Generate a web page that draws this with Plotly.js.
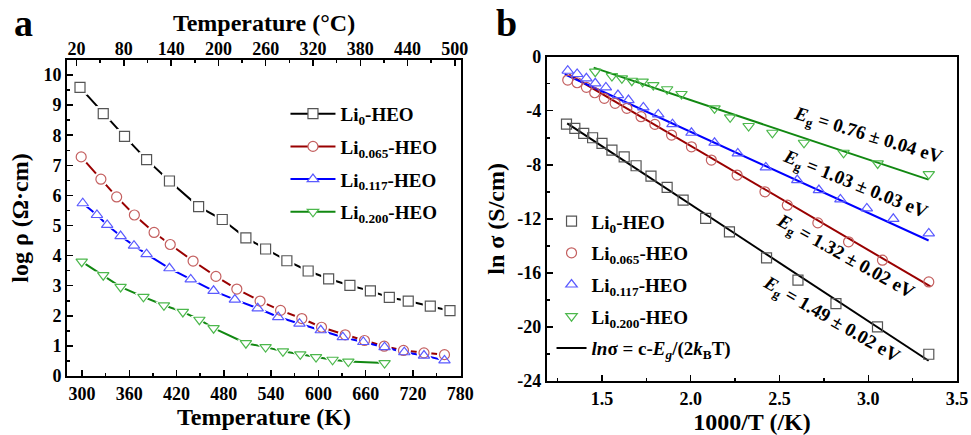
<!DOCTYPE html>
<html><head><meta charset="utf-8">
<script src="https://cdn.plot.ly/plotly-3.0.1.min.js"></script>
<style>html,body{margin:0;padding:0;background:#fff;} #chart{width:971px;height:435px;}</style>
</head><body><div id="chart"></div>
<script>
// ---------- labels ----------
const seriesNames = ['Li<sub>0</sub>-HEO', 'Li<sub>0.065</sub>-HEO', 'Li<sub>0.117</sub>-HEO', 'Li<sub>0.200</sub>-HEO'];
const fitLegendName = '<i>ln</i>σ = c-<i>E<sub>g</sub></i>/(2<i>k</i><sub>B</sub>T)';

// ---------- panel a : log rho vs T (K) ----------
const tempLi0   = [297.5, 327, 354, 382, 411, 448, 478, 508, 533, 560, 587, 613, 640, 666, 690, 714, 742, 767];
const logRhoLi0 = [9.59, 8.72, 7.96, 7.19, 6.48, 5.63, 5.20, 4.59, 4.22, 3.83, 3.49, 3.23, 3.01, 2.83, 2.61, 2.49, 2.32, 2.17];
const tempLi065   = [299, 324, 344, 366.5, 391.5, 412, 441, 470, 496.5, 526, 552, 579, 604, 634, 658.5, 683.5, 708, 734, 760];
const logRhoLi065 = [7.28, 6.54, 5.95, 5.35, 4.77, 4.37, 3.82, 3.31, 2.89, 2.49, 2.18, 1.91, 1.62, 1.37, 1.18, 0.99, 0.85, 0.77, 0.71];
const tempLi117   = [301, 319, 332, 349, 366, 382, 411, 438, 467, 494, 523, 549, 576, 603, 631, 657, 684, 709, 734, 760];
const logRhoLi117 = [5.74, 5.35, 5.02, 4.65, 4.33, 4.05, 3.58, 3.21, 2.83, 2.54, 2.25, 1.96, 1.74, 1.52, 1.29, 1.13, 0.96, 0.79, 0.68, 0.52];
const tempLi200   = [299.7, 327, 349, 378, 404, 428, 449, 467, 508, 533, 555, 577, 597, 618, 638, 684];
const logRhoLi200 = [3.80, 3.35, 2.96, 2.63, 2.35, 2.13, 1.87, 1.59, 1.09, 0.96, 0.82, 0.72, 0.63, 0.54, 0.48, 0.43];

// ---------- panel b : ln sigma vs 1000/T ----------
const invTLi0     = [1.300, 1.347, 1.397, 1.447, 1.500, 1.556, 1.625, 1.692, 1.776, 1.867, 1.957, 2.084, 2.218, 2.427, 2.604, 2.818, 3.052, 3.341];
const lnSigLi0    = [-4.99, -5.31, -5.68, -6.00, -6.42, -6.91, -7.41, -8.07, -8.84, -9.67, -10.61, -11.97, -12.96, -14.89, -16.54, -18.27, -20.00, -22.02];
const invTLi065   = [1.307, 1.360, 1.412, 1.459, 1.513, 1.574, 1.640, 1.720, 1.798, 1.892, 2.004, 2.116, 2.261, 2.418, 2.544, 2.716, 2.889, 3.080, 3.341];
const lnSigLi065  = [-1.73, -1.93, -2.27, -2.67, -3.08, -3.45, -3.82, -4.44, -5.01, -5.80, -6.67, -7.65, -8.76, -10.00, -10.99, -12.30, -13.70, -15.06, -16.67];
const invTLi117   = [1.307, 1.360, 1.412, 1.462, 1.522, 1.590, 1.649, 1.733, 1.817, 1.897, 2.004, 2.134, 2.265, 2.423, 2.600, 2.722, 2.843, 2.992, 3.141, 3.341];
const lnSigLi117  = [-1.04, -1.28, -1.60, -1.97, -2.27, -2.84, -3.21, -3.75, -4.27, -4.99, -5.63, -6.37, -7.16, -8.19, -9.13, -9.87, -10.56, -11.23, -12.00, -13.08];
const invTLi200   = [1.462, 1.556, 1.612, 1.668, 1.729, 1.789, 1.867, 1.948, 2.134, 2.222, 2.326, 2.460, 2.638, 2.861, 3.053, 3.341];
const lnSigLi200  = [-1.11, -1.43, -1.60, -1.78, -1.85, -2.10, -2.41, -2.76, -3.82, -4.49, -5.13, -5.63, -6.37, -7.11, -7.90, -8.69];

// linear fits (end points)
const fitXLi0   = [1.304, 3.34];  const fitYLi0   = [-4.94, -22.50];
const fitXLi065 = [1.315, 3.35];  const fitYLi065 = [-1.32, -17.00];
const fitXLi117 = [1.290, 3.34];  const fitYLi117 = [-1.30, -13.60];
const fitXLi200 = [1.453, 3.34];  const fitYLi200 = [-0.81, -9.10];

const egValues = ['1.49 ± 0.02', '1.32 ± 0.02', '1.03 ± 0.03', '0.76 ± 0.04'];

// ---------- ticks ----------
const kelvinTicks  = [300, 360, 420, 480, 540, 600, 660, 720, 780];
const celsiusTicks = [20, 80, 140, 200, 260, 320, 380, 440, 500];
const logRhoTicks  = [0, 1, 2, 3, 4, 5, 6, 7, 8, 9, 10];
const invTTicks    = [1.5, 2.0, 2.5, 3.0, 3.5];
const invTTickText = ['1.5', '2.0', '2.5', '3.0', '3.5'];
const lnSigTicks    = [-24, -20, -16, -12, -8, -4, 0];
const lnSigTickText = ['-24', '-20', '-16', '-12', '-8', '-4', '0'];

// ---------- styles ----------
const FONT = 'Liberation Serif';
const lineColors   = ['#000000', '#990000', '#0000ff', '#118811'];
const markerColors = ['#555555', '#c46060', '#5a5aff', '#4cb84c'];
const symbols      = ['square', 'circle', 'triangle-up', 'triangle-down'];

const panelA = [[tempLi0, logRhoLi0], [tempLi065, logRhoLi065], [tempLi117, logRhoLi117], [tempLi200, logRhoLi200]];
const panelB = [[invTLi0, lnSigLi0], [invTLi065, lnSigLi065], [invTLi117, lnSigLi117], [invTLi200, lnSigLi200]];
const fits   = [[fitXLi0, fitYLi0], [fitXLi065, fitYLi065], [fitXLi117, fitYLi117], [fitXLi200, fitYLi200]];

const traces = [];
// panel a: connecting lines
panelA.forEach((d, i) => traces.push({x: d[0], y: d[1], xaxis: 'x', yaxis: 'y', mode: 'lines',
  line: {color: lineColors[i], width: 2}, showlegend: false, hoverinfo: 'skip'}));
// panel a: white masks (gap around symbols)
panelA.forEach((d, i) => traces.push({x: d[0], y: d[1], xaxis: 'x', yaxis: 'y', mode: 'markers',
  marker: {symbol: symbols[i], size: 15, color: '#ffffff', line: {width: 0}}, showlegend: false, hoverinfo: 'skip'}));
// panel a: symbols
panelA.forEach((d, i) => traces.push({x: d[0], y: d[1], xaxis: 'x', yaxis: 'y', mode: 'markers',
  marker: {symbol: symbols[i] + '-open', size: 10, color: markerColors[i], line: {width: 1.2}}, showlegend: false}));
// panel a: legend entries
panelA.forEach((d, i) => traces.push({x: [null], y: [null], xaxis: 'x', yaxis: 'y', mode: 'lines+markers', name: seriesNames[i],
  legend: 'legend', legendgroup: 'a' + i, line: {color: lineColors[i], width: 2},
  marker: {symbol: symbols[i], size: 10, color: '#ffffff', line: {color: markerColors[i], width: 1.2}}}));
// dummy for top axis
traces.push({x: [null], y: [null], xaxis: 'x3', yaxis: 'y', mode: 'markers', showlegend: false, hoverinfo: 'skip'});
// panel b: fit lines
fits.forEach((d, i) => traces.push({x: d[0], y: d[1], xaxis: 'x2', yaxis: 'y2', mode: 'lines',
  line: {color: lineColors[i], width: 2}, showlegend: false, hoverinfo: 'skip'}));
// panel b: symbols
panelB.forEach((d, i) => traces.push({x: d[0], y: d[1], xaxis: 'x2', yaxis: 'y2', mode: 'markers', name: seriesNames[i],
  legend: 'legend2', legendgroup: 'b' + i, marker: {symbol: symbols[i] + '-open', size: 10, color: markerColors[i], line: {width: 1.2}}}));
// panel b: fit legend entry
traces.push({x: [null], y: [null], xaxis: 'x2', yaxis: 'y2', mode: 'lines', name: fitLegendName,
  legend: 'legend2', legendgroup: 'bfit', line: {color: '#000000', width: 2}});

const tickFont  = {family: FONT, size: 18, color: '#000', weight: 'bold'};
const titleFont = {family: FONT, size: 24, color: '#000', weight: 'bold'};
const axisCommon = {showgrid: false, zeroline: false, showline: true, linecolor: '#000', linewidth: 2,
  ticks: 'inside', ticklen: 6, tickwidth: 1.5, tickcolor: '#000', tickfont: tickFont, automargin: false};

const KMIN = 281, KMAX = 781;
const layout = {
  width: 971, height: 435, margin: {l: 0, r: 0, t: 0, b: 0, pad: 0},
  paper_bgcolor: '#fff', plot_bgcolor: 'rgba(0,0,0,0)',
  font: {family: FONT, color: '#000'},
  xaxis: Object.assign({}, axisCommon, {domain: [0.069, 0.4748], anchor: 'y', range: [KMIN, KMAX],
    tickmode: 'array', tickvals: kelvinTicks,
    minor: {tickmode: 'linear', tick0: 300, dtick: 30, ticks: 'inside', ticklen: 3, tickwidth: 1.5, tickcolor: '#000'},
    title: {text: 'Temperature (K)', font: titleFont, standoff: 6}}),
  xaxis3: Object.assign({}, axisCommon, {overlaying: 'x', side: 'top', anchor: 'y', range: [KMIN - 273.15, KMAX - 273.15],
    tickmode: 'array', tickvals: celsiusTicks, ticklabelstandoff: -4,
    minor: {tickmode: 'linear', tick0: 20, dtick: 30, ticks: 'inside', ticklen: 3, tickwidth: 1.5, tickcolor: '#000'},
    title: {text: 'Temperature (°C)', font: titleFont, standoff: 0}}),
  yaxis: Object.assign({}, axisCommon, {domain: [0.1356, 0.8621], anchor: 'x', range: [0, 10.5], mirror: true,
    tickmode: 'array', tickvals: logRhoTicks,
    minor: {tickmode: 'linear', tick0: 0, dtick: 0.5, ticks: 'inside', ticklen: 3, tickwidth: 1.5, tickcolor: '#000'},
    title: {text: 'log ρ (Ω·cm)', font: titleFont, standoff: 8}}),
  xaxis2: Object.assign({}, axisCommon, {domain: [0.5633, 0.9856], anchor: 'y2', range: [1.19, 3.5], mirror: true,
    tickmode: 'array', tickvals: invTTicks, ticktext: invTTickText,
    minor: {tickmode: 'linear', tick0: 1.5, dtick: 0.25, ticks: 'inside', ticklen: 3, tickwidth: 1.5, tickcolor: '#000'},
    title: {text: '1000/T (/K)', font: titleFont, standoff: 11}}),
  yaxis2: Object.assign({}, axisCommon, {domain: [0.1241, 0.8697], anchor: 'x2', range: [-24, 0], mirror: true,
    tickmode: 'array', tickvals: lnSigTicks, ticktext: lnSigTickText,
    minor: {tickmode: 'linear', tick0: 0, dtick: 2, ticks: 'inside', ticklen: 3, tickwidth: 1.5, tickcolor: '#000'},
    title: {text: 'ln σ (S/cm)', font: titleFont, standoff: 6}}),
  legend: {x: 0.294, y: 0.782, xanchor: 'left', yanchor: 'top', bgcolor: 'rgba(0,0,0,0)', borderwidth: 0,
    font: {family: FONT, size: 19, color: '#000', weight: 'bold'}, itemwidth: 45, tracegroupgap: 5},
  legend2: {x: 0.568, y: 0.535, xanchor: 'left', yanchor: 'top', bgcolor: 'rgba(0,0,0,0)', borderwidth: 0,
    font: {family: FONT, size: 19, color: '#000', weight: 'bold'}, itemwidth: 30, tracegroupgap: 4},
  annotations: [
    {text: 'a', xref: 'paper', yref: 'paper', x: 12 / 971, y: 1, xanchor: 'left', yanchor: 'top', showarrow: false,
      font: {family: FONT, size: 38, weight: 'bold'}},
    {text: 'b', xref: 'paper', yref: 'paper', x: 494 / 971, y: 1, xanchor: 'left', yanchor: 'top', showarrow: false,
      font: {family: FONT, size: 38, weight: 'bold'}},
    {text: '<i>E</i><sub>g</sub> = ' + egValues[0] + ' eV', xref: 'x2', yref: 'y2', x: 2.79, y: -19.5, textangle: 30, showarrow: false,
      font: {family: FONT, size: 19, weight: 'bold'}},
    {text: '<i>E</i><sub>g</sub> = ' + egValues[1] + ' eV', xref: 'x2', yref: 'y2', x: 2.87, y: -14.85, textangle: 29, showarrow: false,
      font: {family: FONT, size: 19, weight: 'bold'}},
    {text: '<i>E</i><sub>g</sub> = ' + egValues[2] + ' eV', xref: 'x2', yref: 'y2', x: 2.927, y: -9.5, textangle: 22, showarrow: false,
      font: {family: FONT, size: 19, weight: 'bold'}},
    {text: '<i>E</i><sub>g</sub> = ' + egValues[3] + ' eV', xref: 'x2', yref: 'y2', x: 3.0, y: -5.85, textangle: 17, showarrow: false,
      font: {family: FONT, size: 19, weight: 'bold'}}
  ]
};

Plotly.newPlot('chart', traces, layout, {displayModeBar: false, staticPlot: true});
</script>
</body></html>
